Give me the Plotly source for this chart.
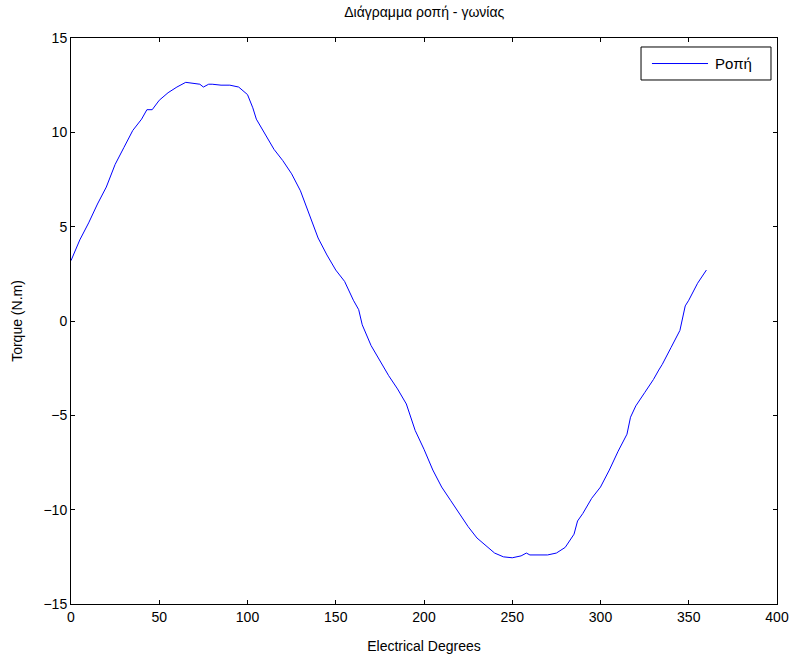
import plotly.graph_objects as go

degrees = [0, 5, 10, 15, 20, 25, 30, 35, 40, 43, 46, 50, 55, 60, 65, 70, 73, 75, 78, 80, 85, 90, 95,
           100, 103, 105, 110, 115, 120, 125, 130, 135, 140, 145, 150, 155, 160, 163, 165, 170, 175,
           180, 185, 190, 195, 200, 205, 210, 215, 220, 225, 230, 235, 240, 245, 250, 255,
           258, 260, 265, 270, 275, 280, 285, 287, 290, 295, 300, 305, 310, 315, 317, 320, 325, 330, 333, 335,
           340, 345, 348, 350, 355, 360]
torque = [3.2, 4.3, 5.2, 6.2, 7.1, 8.3, 9.2, 10.1, 10.7, 11.2, 11.2, 11.7, 12.1, 12.4, 12.65, 12.6,
          12.55, 12.4, 12.55, 12.55, 12.5, 12.5, 12.4, 12.0, 11.3, 10.7, 9.9, 9.1, 8.5, 7.8, 6.9, 5.6, 4.4, 3.5,
          2.7, 2.1, 1.1, 0.6, -0.2, -1.3, -2.1, -2.9, -3.6, -4.4, -5.8, -6.8, -7.9, -8.8, -9.5,
          -10.2, -10.9, -11.5, -11.9, -12.3, -12.5, -12.55, -12.45, -12.3, -12.4, -12.4, -12.4,
          -12.3, -12.0, -11.3, -10.6, -10.2, -9.4, -8.8, -7.9, -6.9, -6.0, -5.1, -4.5, -3.8, -3.1, -2.6, -2.3,
          -1.4, -0.5, 0.8, 1.1, 2.0, 2.7]

x_ticks = [0, 50, 100, 150, 200, 250, 300, 350, 400]
y_ticks = [-15, -10, -5, 0, 5, 10, 15]
series_name = "Ροπή"

font = "Liberation Sans, Arial, sans-serif"
line_color = "#0000ff"

fig = go.Figure()
fig.add_trace(go.Scatter(x=degrees, y=torque, mode="lines", name=series_name,
                         line=dict(color=line_color, width=1), showlegend=False))

axis_common = dict(showline=True, linecolor="black", linewidth=1, mirror="ticks",
                   ticks="inside", ticklen=4, tickcolor="black", showgrid=False,
                   zeroline=False, automargin=False,
                   tickfont=dict(family=font, size=14, color="black"))

# MATLAB-style legend box
fig.add_shape(type="rect", xref="paper", yref="paper", x0=0.8074, x1=0.9915, y0=0.9258, y1=0.9841,
              line=dict(color="black", width=1), fillcolor="white", layer="above")
fig.add_shape(type="line", xref="paper", yref="paper", x0=0.8229, x1=0.9023, y0=0.9549, y1=0.9549,
              line=dict(color=line_color, width=1), layer="above")
fig.add_annotation(text=series_name, xref="paper", yref="paper", x=0.9100, y=0.9549,
                   xanchor="left", yanchor="middle", showarrow=False,
                   font=dict(family=font, size=15, color="black"))

fig.update_layout(
    width=793, height=654,
    margin=dict(l=71, r=16, t=38, b=50, autoexpand=False),
    paper_bgcolor="white", plot_bgcolor="white",
    title=dict(text="Διάγραμμα ροπή - γωνίας", x=0.535, xanchor="center", y=0.982,
               yanchor="middle", font=dict(family=font, size=14, color="black")),
    xaxis=dict(range=[0, 400], tickvals=x_ticks, **axis_common,
               title=dict(text="Electrical Degrees", standoff=17,
                          font=dict(family=font, size=14, color="black"))),
    yaxis=dict(range=[-15, 15], tickvals=y_ticks, **axis_common,
               title=dict(text="Torque (N.m)", standoff=17,
                          font=dict(family=font, size=14, color="black"))),
    showlegend=False,
)

fig.write_html("out.html")
